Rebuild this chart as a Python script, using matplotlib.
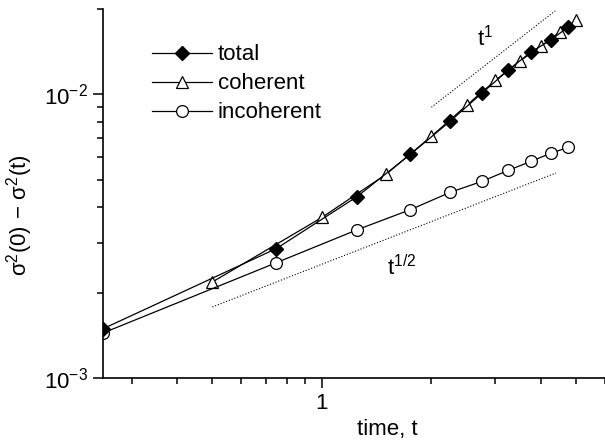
import numpy as np
import matplotlib
matplotlib.use("Agg")
import matplotlib.pyplot as plt

plt.rcParams['font.family'] = ['Liberation Sans', 'DejaVu Sans']
plt.rcParams['mathtext.fontset'] = 'custom'
plt.rcParams['mathtext.rm'] = 'Liberation Sans'
plt.rcParams['mathtext.it'] = 'Liberation Sans'

# data
t_total = [0.25, 0.75, 1.25, 1.75, 2.25, 2.75, 3.25, 3.75, 4.25, 4.75]
total = [1.49e-3, 2.86e-3, 4.36e-3, 6.14e-3, 8.03e-3, 1.008e-2, 1.216e-2, 1.407e-2, 1.552e-2, 1.725e-2]

t_coh = [0.5, 1.0, 1.5, 2.0, 2.5, 3.0, 3.5, 4.0, 4.5, 5.0]
coherent = [2.18e-3, 3.68e-3, 5.22e-3, 7.11e-3, 9.15e-3, 1.12e-2, 1.31e-2, 1.478e-2, 1.656e-2, 1.826e-2]

t_inc = [0.25, 0.75, 1.25, 1.75, 2.25, 2.75, 3.25, 3.75, 4.25, 4.75]
incoherent = [1.44e-3, 2.55e-3, 3.33e-3, 3.92e-3, 4.51e-3, 4.93e-3, 5.39e-3, 5.80e-3, 6.19e-3, 6.50e-3]

# guide lines (end points)
t_lin = [2.0, 4.38]
y_lin = [9.0e-3, 1.97e-2]
t_sqrt = [0.5, 4.4]
y_sqrt = [1.78e-3, 5.28e-3]

fig = plt.figure(figsize=(6.05, 4.45), dpi=100)
ax = fig.add_axes([0.170, 0.1506, 0.83, 0.8294])

lw = 0.9
ax.plot(t_total, total, '-', color='black', lw=lw, marker='D', ms=7,
        mfc='black', mec='black', label='total', zorder=3)
ax.plot(t_coh, coherent, '-', color='black', lw=lw, marker='^', ms=9,
        mfc='white', mec='black', mew=0.9, label='coherent', zorder=2)
ax.plot(t_inc, incoherent, '-', color='black', lw=lw, marker='o', ms=8.5,
        mfc='white', mec='black', mew=0.9, label='incoherent', zorder=2)

ax.plot(t_lin, y_lin, ':', color='black', lw=0.8)
ax.plot(t_sqrt, y_sqrt, ':', color='black', lw=0.8)
ax.text(2.81, 1.59e-2, r'$\mathregular{t^1}$', fontsize=16, ha='center', va='center')
ax.text(1.66, 2.45e-3, r'$\mathregular{t^{1/2}}$', fontsize=16, ha='center', va='center')

ax.set_xscale('log')
ax.set_yscale('log')
ax.set_xlim(0.25, 6.0)
ax.set_ylim(1e-3, 2.0e-2)

ax.spines['top'].set_visible(False)
ax.spines['right'].set_visible(False)
for s in ['left', 'bottom']:
    ax.spines[s].set_linewidth(1.2)

ax.xaxis.set_major_locator(matplotlib.ticker.LogLocator(base=10, numticks=10))
ax.xaxis.set_major_formatter(matplotlib.ticker.FuncFormatter(lambda v, p: '%g' % v))
ax.xaxis.set_minor_formatter(matplotlib.ticker.NullFormatter())
ax.yaxis.set_major_formatter(matplotlib.ticker.LogFormatterMathtext())
ax.yaxis.set_minor_formatter(matplotlib.ticker.NullFormatter())
ax.tick_params(which='major', length=7, width=1.1, labelsize=16, pad=4)
ax.tick_params(which='minor', length=4, width=1.1)

ax.set_xlabel('time, t', fontsize=16)
ax.xaxis.set_label_coords(0.566, -0.11)
ax.set_ylabel(r'$\mathregular{\sigma^2(0)\,-\,\sigma^2(t)}$', fontsize=16)
ax.yaxis.set_label_coords(-0.135, 0.44)

ax.legend(loc='center left', bbox_to_anchor=(0.0976, 0.797), frameon=False,
          fontsize=16, handlelength=2.7, handletextpad=0.27, labelspacing=0.36,
          borderaxespad=0, borderpad=0)

fig.savefig('out.png', dpi=100)
